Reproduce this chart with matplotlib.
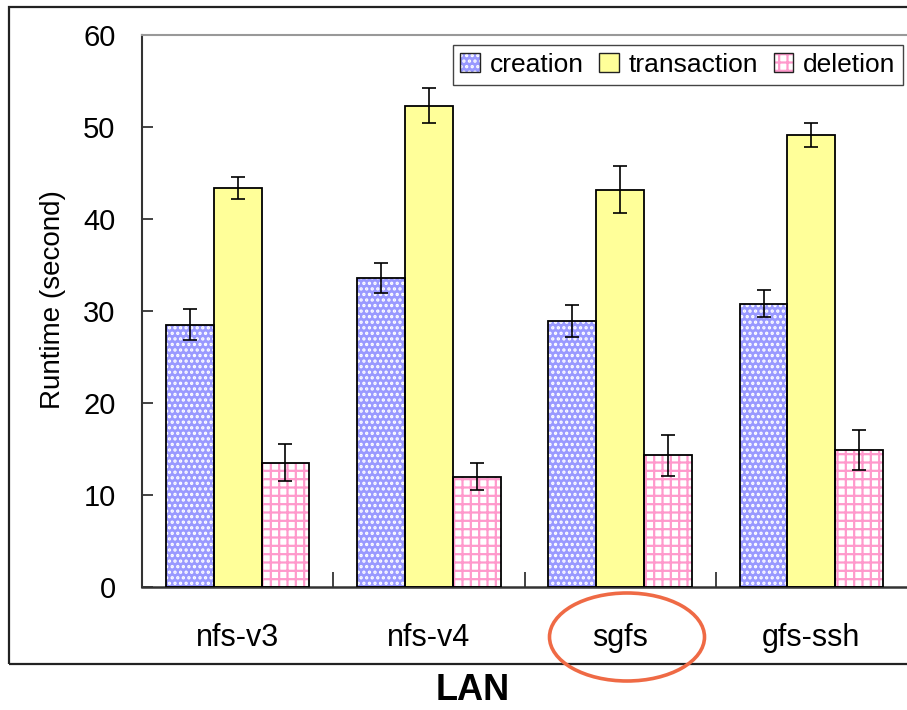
import matplotlib
matplotlib.use("Agg")
import matplotlib.pyplot as plt
from matplotlib.patches import Ellipse, Rectangle, Patch
from matplotlib.legend_handler import HandlerTuple
import numpy as np

plt.rcParams['font.family'] = ['Liberation Sans', 'DejaVu Sans']
plt.rcParams['hatch.linewidth'] = 1.6

# Runtime data (seconds) with error bar half-widths
systems = ["nfs-v3", "nfs-v4", "sgfs", "gfs-ssh"]
creation = [28.5, 33.6, 28.9, 30.8]
creation_err = [1.7, 1.6, 1.7, 1.5]
transaction = [43.4, 52.3, 43.2, 49.1]
transaction_err = [1.2, 1.9, 2.6, 1.3]
deletion = [13.5, 12.0, 14.3, 14.9]
deletion_err = [2.0, 1.5, 2.2, 2.2]
yticks = [0, 10, 20, 30, 40, 50, 60]

W, H = 907, 710
fig = plt.figure(figsize=(W / 100, H / 100), dpi=100)
ax = fig.add_axes([142 / W, 1 - 587 / H, 765 / W, 552 / H])

x = np.arange(len(systems))
bw = 0.25

# (face colour, hatch, hatch colour) per series
styles = {
    'creation': ('#9999FF', '...', 'white'),
    'transaction': ('#FFFF99', None, '#FFFF99'),
    'deletion': ('white', '++', '#FF99CC'),
}

def hatched_bars(pos, vals, key):
    face, hatch, hcol = styles[key]
    ax.bar(pos, vals, bw, color=face, edgecolor=hcol, hatch=hatch,
           linewidth=0, zorder=2)
    ax.bar(pos, vals, bw, fill=False, edgecolor='black', linewidth=1.3,
           zorder=3)

hatched_bars(x - bw, creation, 'creation')
hatched_bars(x, transaction, 'transaction')
hatched_bars(x + bw, deletion, 'deletion')

err_kw = dict(fmt='none', ecolor='black', elinewidth=1.2, capsize=5,
              capthick=1.2, zorder=4)
ax.errorbar(x - bw, creation, yerr=creation_err, **err_kw)
ax.errorbar(x, transaction, yerr=transaction_err, **err_kw)
ax.errorbar(x + bw, deletion, yerr=deletion_err, **err_kw)

ax.set_xlim(-0.5, 3.5)
ax.set_ylim(0, 60)
ax.set_yticks(yticks)
ax.tick_params(axis='y', direction='in', length=8, width=1.2, pad=19,
               labelsize=21, colors='#222222', labelcolor='black')
ax.set_xticks(x)
ax.set_xticklabels(systems)
ax.tick_params(axis='x', which='major', length=0, pad=26, labelsize=22)
ax.set_xticks([0.5, 1.5, 2.5], minor=True)
ax.tick_params(axis='x', which='minor', direction='in', length=11,
               width=1.2, colors='#222222')

ax.spines['left'].set_color('#333333')
ax.spines['left'].set_linewidth(1.5)
ax.spines['bottom'].set_color('#333333')
ax.spines['bottom'].set_linewidth(1.8)
ax.spines['top'].set_color('#999999')
ax.spines['top'].set_linewidth(1.5)
ax.spines['right'].set_visible(False)

ax.set_ylabel("Runtime (second)", fontsize=20)
ax.yaxis.set_label_coords(-0.099, 0.52)

handles = []
for key in ['creation', 'transaction', 'deletion']:
    face, hatch, hcol = styles[key]
    fillp = Patch(facecolor=face, edgecolor=hcol, hatch=hatch, linewidth=0)
    edge = Patch(fill=False, edgecolor='#222222', linewidth=1.0)
    handles.append((fillp, edge))

leg = ax.legend(handles=handles, labels=['creation', 'transaction', 'deletion'],
                handler_map={tuple: HandlerTuple(ndivide=1, pad=0)},
                ncol=3, loc='upper right',
                bbox_to_anchor=(903 / W, 1 - 45 / H),
                bbox_transform=fig.transFigure, borderaxespad=0,
                fontsize=19, frameon=True, fancybox=False, framealpha=1,
                edgecolor='#444444', handlelength=0.75, handleheight=0.75,
                handletextpad=0.35, columnspacing=0.6, borderpad=0.3)
leg.get_frame().set_linewidth(1.0)

# outer frame of the figure
frame = Rectangle((9 / W, 1 - 664 / H), 1.2, (664 - 7) / H,
                  transform=fig.transFigure, fill=False,
                  edgecolor='#222222', linewidth=1.6, clip_on=False)
fig.patches.append(frame)

fig.text(473 / W, 1 - 690 / H, "LAN", fontsize=26, fontweight='bold',
         ha='center', va='center')

ring = Ellipse((627 / W, 1 - 637 / H), 155 / W, 88 / H,
               transform=fig.transFigure, fill=False, edgecolor='#EF6A45',
               linewidth=2.6, clip_on=False)
fig.patches.append(ring)

fig.savefig("out.png", dpi=100)
